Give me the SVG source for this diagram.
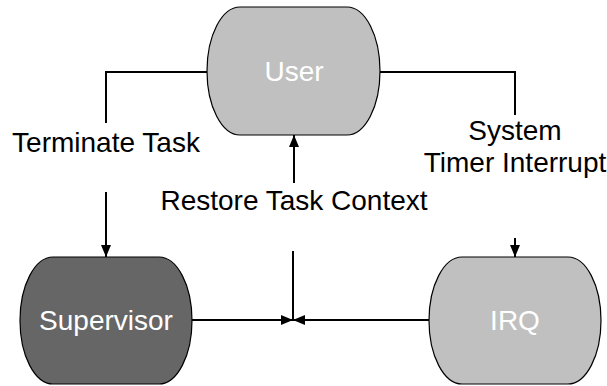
<svg xmlns="http://www.w3.org/2000/svg" width="607" height="386" viewBox="0 0 607 386">
<defs>
<style>
.node{stroke:#000;stroke-width:1.2}
.light{fill:#c0c0c0}
.dark{fill:#666666}
.ntext{font-family:"Liberation Sans",Arial,sans-serif;font-size:28px;fill:#fff;text-anchor:middle}
.label{font-family:"Liberation Sans",Arial,sans-serif;font-size:28px;fill:#000;text-anchor:middle}
.conn{fill:none;stroke:#000;stroke-width:2}
</style>
<marker id="arrow" viewBox="0 0 12 10" refX="12" refY="5" markerWidth="12" markerHeight="10" markerUnits="userSpaceOnUse" orient="auto">
<path d="M0,0 L12,5 L0,10 Z" fill="#000"/>
</marker>
</defs>
<rect width="607" height="386" fill="#fff"/>
<g id="connectors">
<polyline class="conn" points="207,72 106,72 106,123"/>
<line class="conn" x1="106" y1="192" x2="106" y2="257" marker-end="url(#arrow)"/>
<polyline class="conn" points="380,72 515,72 515,115"/>
<line class="conn" x1="515" y1="238" x2="515" y2="257" marker-end="url(#arrow)"/>
<line class="conn" x1="294" y1="183" x2="294" y2="135" marker-end="url(#arrow)"/>
<line class="conn" x1="293" y1="251" x2="293" y2="320"/>
<line class="conn" x1="192" y1="320" x2="293" y2="320" marker-end="url(#arrow)"/>
<line class="conn" x1="429" y1="320" x2="293" y2="320" marker-end="url(#arrow)"/>
</g>
<g id="labels">
<text class="label" x="106" y="152">Terminate Task</text>
<text class="label" x="515" y="140">System</text>
<text class="label" x="515" y="172">Timer Interrupt</text>
<text class="label" x="294" y="210">Restore Task Context</text>
</g>
<g id="user">
<rect class="node light" x="207" y="7" width="173" height="128" rx="33" ry="64"/>
<text class="ntext" x="294" y="81">User</text>
</g>
<g id="supervisor">
<rect class="node dark" x="20" y="257" width="172" height="127" rx="33" ry="63.5"/>
<text class="ntext" x="106" y="330">Supervisor</text>
</g>
<g id="irq">
<rect class="node light" x="429" y="257" width="172" height="127" rx="33" ry="63.5"/>
<text class="ntext" x="515" y="330">IRQ</text>
</g>
</svg>
